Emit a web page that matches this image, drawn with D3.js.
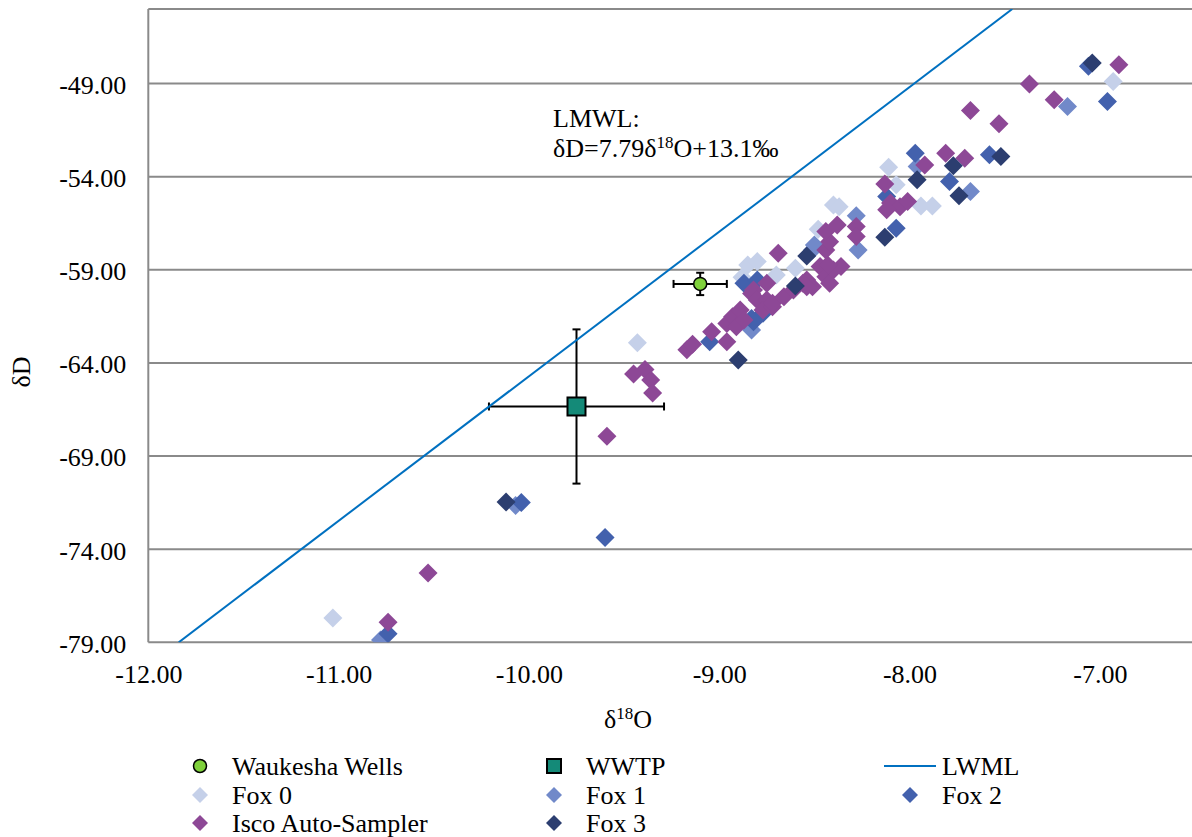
<!DOCTYPE html>
<html><head><meta charset="utf-8">
<script src="https://cdn.jsdelivr.net/npm/d3@7"></script>
<style>
body{margin:0;background:#fff}
svg{display:block}
svg text{font-family:"Liberation Serif","Times New Roman",Times,"Nimbus Roman","Tinos","DejaVu Serif",serif !important}
</style>
</head><body>
<svg id="c" width="1192" height="837"></svg>
<script>
// ---- data ----
const xTicks = [-12, -11, -10, -9, -8, -7];
const yTicks = [-79, -74, -69, -64, -59, -54, -49];

const fox0 = [[-11.03,-77.70],[-9.43,-62.92],[-8.40,-55.52],[-8.37,-55.61],[-8.48,-56.83],[-8.11,-53.49],
  [-8.07,-54.44],[-7.94,-55.57],[-7.88,-55.57],[-6.93,-48.89],[-8.60,-58.92],[-8.70,-59.28],[-8.85,-58.74],
  [-8.80,-58.56],[-8.88,-59.40]];
const fox1 = [[-10.78,-78.87],[-10.07,-71.65],[-8.51,-57.94],[-8.28,-56.10],[-8.27,-57.94],[-8.50,-57.67],
  [-7.96,-53.46],[-7.68,-54.80],[-7.17,-50.23],[-8.83,-62.24]];
const fox2 = [[-10.74,-78.54],[-10.04,-71.50],[-9.60,-73.38],[-9.05,-62.87],[-8.87,-59.73],[-8.83,-61.61],
  [-8.77,-61.34],[-8.80,-59.55],[-8.82,-61.79],[-7.97,-52.74],[-7.79,-54.26],[-7.58,-52.83],[-8.12,-55.07],
  [-8.07,-56.77],[-7.06,-48.08],[-6.96,-49.96]];
const isco = [[-10.74,-77.92],[-10.53,-75.28],[-9.59,-67.94],[-9.45,-64.60],[-9.39,-64.35],[-9.36,-64.92],
  [-9.35,-65.61],[-9.17,-63.30],[-9.14,-63.00],[-9.04,-62.33],[-8.96,-62.87],[-8.69,-58.11],[-8.96,-61.88],
  [-8.93,-61.52],[-8.89,-61.16],[-8.91,-62.06],[-8.87,-61.70],[-8.83,-60.27],[-8.82,-60.09],[-8.80,-60.62],
  [-8.75,-59.73],[-8.75,-60.62],[-8.77,-61.16],[-8.72,-60.98],[-8.72,-60.80],[-8.66,-60.45],[-8.61,-60.09],
  [-8.56,-59.73],[-8.54,-59.55],[-8.51,-59.91],[-8.54,-59.91],[-8.47,-58.83],[-8.44,-59.37],[-8.42,-59.73],
  [-8.40,-59.01],[-8.36,-58.83],[-8.43,-58.74],[-8.44,-57.94],[-8.42,-57.49],[-8.38,-56.59],[-8.44,-56.95],
  [-8.28,-56.68],[-8.28,-57.22],[-8.13,-54.39],[-8.10,-55.42],[-8.05,-55.61],[-8.01,-55.34],[-8.12,-55.78],
  [-7.92,-53.37],[-7.81,-52.74],[-7.71,-53.01],[-7.68,-50.45],[-7.53,-51.16],[-7.37,-49.03],[-7.24,-49.87],
  [-6.90,-47.99]];
const fox3 = [[-10.12,-71.47],[-8.90,-63.85],[-8.54,-58.26],[-8.60,-59.87],[-7.96,-54.17],[-7.77,-53.42],
  [-7.52,-52.92],[-7.74,-55.03],[-8.13,-57.25],[-7.04,-47.90]];

const wells = {x: -9.10, y: -59.76, ex: 0.14, ey: 0.60};
const wwtp  = {x: -9.75, y: -66.34, ex: 0.46, ey: 4.14};
const lmwlX = [-11.84, -7.46];
const lmwlY = [-79.0, -45.0];

const seriesNames = ["Waukesha Wells","WWTP","LWML","Fox 0","Fox 1","Fox 2","Isco Auto-Sampler","Fox 3"];
const colors = {"Fox 0":"#C5D0E9","Fox 1":"#7189C9","Fox 2":"#4361AD","Fox 3":"#2C3E70",
  "Isco Auto-Sampler":"#8D4896","Waukesha Wells":"#7FD13B","WWTP":"#148A78","LWML":"#0070C0"};

// ---- layout ----
const L = 148.3, T = 9, B = 642.3, R = 1195;
const x = d3.scaleLinear().domain([-12, -6.5]).range([L, R]);
const y = d3.scaleLinear().domain([-79, -45]).range([B, T]);
const svg = d3.select("#c");
const FS = 26;
const grid = "#8a8a8a";

svg.append("defs").append("clipPath").attr("id","clip")
  .append("rect").attr("x",L).attr("y",T).attr("width",R-L).attr("height",B-T);

// gridlines
svg.append("g").selectAll("line").data(yTicks).join("line")
  .attr("x1",L).attr("x2",R).attr("y1",d=>y(d)).attr("y2",d=>y(d))
  .attr("stroke",grid).attr("stroke-width",2);
svg.append("line").attr("x1",L).attr("x2",R).attr("y1",T).attr("y2",T).attr("stroke",grid).attr("stroke-width",2);
svg.append("line").attr("x1",L).attr("x2",L).attr("y1",T).attr("y2",B).attr("stroke",grid).attr("stroke-width",2);

// axes
const ya = svg.append("g").attr("transform",`translate(${L},0)`)
  .call(d3.axisLeft(y).tickValues(yTicks).tickSize(0).tickPadding(22).tickFormat(d=>d.toFixed(2)));
ya.select(".domain").remove();
ya.attr("font-family",null);
ya.selectAll("text").attr("font-size",FS).attr("fill","#000").attr("dy","0.38em");
const xa = svg.append("g").attr("transform",`translate(0,${B})`)
  .call(d3.axisBottom(x).tickValues(xTicks).tickSize(0).tickPadding(22).tickFormat(d=>d.toFixed(2)));
xa.select(".domain").remove();
xa.attr("font-family",null);
xa.selectAll("text").attr("font-size",FS).attr("fill","#000");

// axis titles
svg.append("text").attr("transform","translate(30,372) rotate(-90)").attr("text-anchor","middle")
  .attr("font-size",FS).text("δD");
const xt = svg.append("text").attr("x",604).attr("y",728).attr("font-size",FS);
xt.append("tspan").text("δ");
xt.append("tspan").attr("font-size",17).attr("dy",-9).text("18");
xt.append("tspan").attr("dy",9).text("O");

// annotation
svg.append("text").attr("x",553).attr("y",127).attr("font-size",FS).text("LMWL:");
const an = svg.append("text").attr("x",553).attr("y",157).attr("font-size",FS);
an.append("tspan").text("δD=7.79δ");
an.append("tspan").attr("font-size",17).attr("dy",-9).text("18");
an.append("tspan").attr("dy",9).text("O+13.1‰");

const plot = svg.append("g").attr("clip-path","url(#clip)");

function errBar(g, d, cap) {
  const lines = [
    [x(d.x-d.ex), y(d.y), x(d.x+d.ex), y(d.y)],
    [x(d.x), y(d.y-d.ey), x(d.x), y(d.y+d.ey)],
    [x(d.x-d.ex), y(d.y)-cap, x(d.x-d.ex), y(d.y)+cap],
    [x(d.x+d.ex), y(d.y)-cap, x(d.x+d.ex), y(d.y)+cap],
    [x(d.x)-cap, y(d.y+d.ey), x(d.x)+cap, y(d.y+d.ey)],
    [x(d.x)-cap, y(d.y-d.ey), x(d.x)+cap, y(d.y-d.ey)]
  ];
  lines.forEach(l => g.append("line").attr("x1",l[0]).attr("y1",l[1]).attr("x2",l[2]).attr("y2",l[3])
    .attr("stroke","#000").attr("stroke-width",2));
}
errBar(plot, wwtp, 4);
errBar(plot, wells, 4);

const diamond = (s) => `M0,${-s}L${s},0L0,${s}L${-s},0Z`;
function diamonds(data, name) {
  plot.append("g").selectAll("path").data(data).join("path")
    .attr("d", diamond(9.5)).attr("transform", d => `translate(${x(d[0])},${y(d[1])})`)
    .attr("fill", colors[name]);
}
plot.append("rect").attr("x",x(wwtp.x)-9).attr("y",y(wwtp.y)-9).attr("width",18).attr("height",18)
  .attr("fill",colors["WWTP"]).attr("stroke","#000").attr("stroke-width",2);
plot.append("circle").attr("cx",x(wells.x)).attr("cy",y(wells.y)).attr("r",6.5)
  .attr("fill",colors["Waukesha Wells"]).attr("stroke","#000").attr("stroke-width",1.5);

plot.append("path").datum(lmwlX.map((v,i)=>[v,lmwlY[i]]))
  .attr("d", d3.line().x(d=>x(d[0])).y(d=>y(d[1])))
  .attr("fill","none").attr("stroke",colors["LWML"]).attr("stroke-width",2);

diamonds(fox0,"Fox 0");
diamonds(fox1,"Fox 1");
diamonds(fox2,"Fox 2");
diamonds(isco,"Isco Auto-Sampler");
diamonds(fox3,"Fox 3");

// legend
const legPos = {
  "Waukesha Wells":[200,766], "WWTP":[554,766], "LWML":[910,766],
  "Fox 0":[200,795], "Fox 1":[554,795], "Fox 2":[910,795],
  "Isco Auto-Sampler":[200,823], "Fox 3":[554,823]
};
const lg = svg.append("g");
seriesNames.forEach(n => {
  const [cx, cy] = legPos[n];
  if (n === "Waukesha Wells") {
    lg.append("circle").attr("cx",cx).attr("cy",cy).attr("r",6.5).attr("fill",colors[n]).attr("stroke","#000").attr("stroke-width",1.5);
  } else if (n === "WWTP") {
    lg.append("rect").attr("x",cx-7).attr("y",cy-7).attr("width",14).attr("height",14).attr("fill",colors[n]).attr("stroke","#000").attr("stroke-width",2);
  } else if (n === "LWML") {
    lg.append("line").attr("x1",cx-26).attr("x2",cx+26).attr("y1",cy).attr("y2",cy).attr("stroke",colors[n]).attr("stroke-width",2);
  } else {
    lg.append("path").attr("d",diamond(8)).attr("transform",`translate(${cx},${cy})`).attr("fill",colors[n]);
  }
  lg.append("text").attr("x",cx+32).attr("y",cy+9).attr("font-size",FS).text(n);
});
</script>
</body></html>
